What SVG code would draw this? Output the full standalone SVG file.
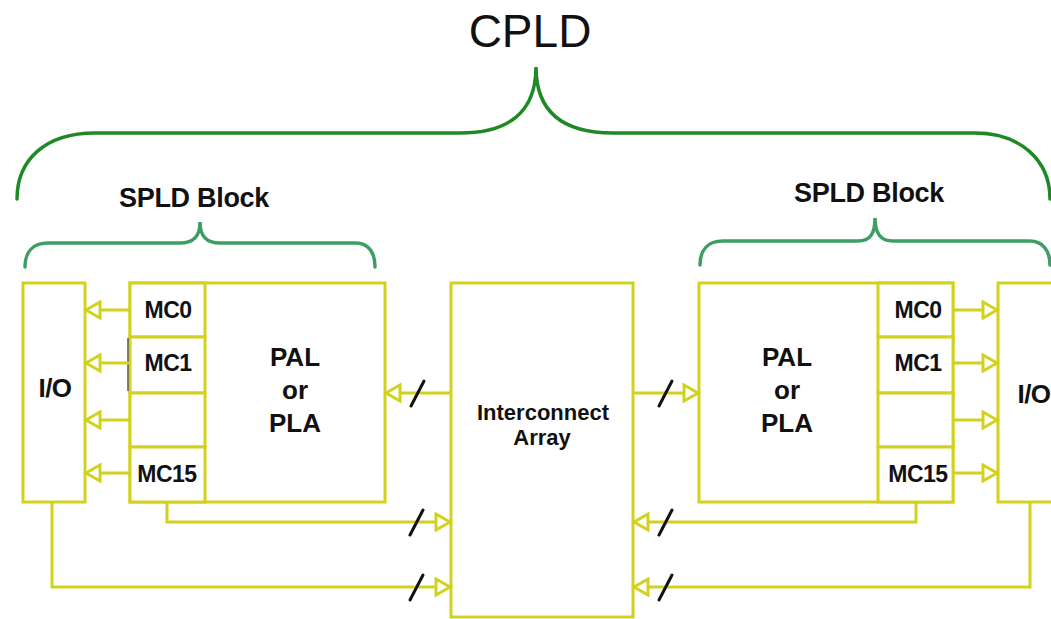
<svg xmlns="http://www.w3.org/2000/svg" width="1051" height="619" viewBox="0 0 1051 619">
<style>
.box{fill:#fff;stroke:#d2d21e;stroke-width:3}
.ln{fill:none;stroke:#d2d21e;stroke-width:3}
.sl{stroke:#111;stroke-width:3;stroke-linecap:round}
.brace1{fill:none;stroke:#1f8a25;stroke-width:3.5;stroke-linecap:round}
.brace2{fill:none;stroke:#3c9e64;stroke-width:3.5;stroke-linecap:round}
text{font-family:"Liberation Sans",Arial,sans-serif;fill:#111;text-anchor:middle}
.b{font-weight:bold}
.mc{font-size:23px;font-weight:bold;letter-spacing:-0.5px}
.pal{font-size:26px;font-weight:bold}
</style>
<defs>
<marker id="ah" viewBox="0 0 20 20" refX="17" refY="10" markerWidth="20" markerHeight="20" markerUnits="userSpaceOnUse" orient="auto">
<path d="M2,2 L16,10 L2,18 Z" fill="#fff" stroke="#d2d21e" stroke-width="3"/>
</marker>
</defs>
<rect width="1051" height="619" fill="#fff"/>

<g id="title">
<text x="530" y="47" font-size="46">CPLD</text>
<path class="brace1" d="M17,199 C17,160 45,133 95,133 L460,133 C505,133 536,115 536,67 C536,115 567,133 613,133 L975,133 C1020,133 1050,160 1050,199"/>
</g>

<g id="spld-left">
<text class="b" x="194" y="207" font-size="27" letter-spacing="-0.3">SPLD Block</text>
<path class="brace2" d="M25,267 C25,252 33,243 48,243 L180,243 C194,243 200,236 200,222 C200,236 206,243 220,243 L356,243 C368,243 375,252 375,267"/>
</g>

<g id="spld-right">
<text class="b" x="869" y="202" font-size="27" letter-spacing="-0.3">SPLD Block</text>
<path class="brace2" d="M700,265 C700,250 708,241 723,241 L858,241 C870,241 875,234 875,218 C875,234 881,241 893,241 L1030,241 C1042,241 1050,250 1050,265"/>
</g>

<g id="io-left">
<rect class="box" x="23" y="283" width="62" height="219"/>
<text class="b" x="55" y="397" font-size="26" letter-spacing="-0.5">I/O</text>
</g>

<g id="pal-left">
<rect class="box" x="130" y="283" width="255" height="219"/>
<text class="pal" x="295" y="366">PAL</text>
<text class="pal" x="295" y="399">or</text>
<text class="pal" x="295" y="432">PLA</text>
</g>
<g id="mc-left">
<rect class="box" x="130" y="283" width="75" height="54"/>
<rect class="box" x="130" y="337" width="75" height="56"/>
<rect class="box" x="130" y="393" width="75" height="54"/>
<rect class="box" x="130" y="447" width="75" height="55"/>
<text class="mc" x="168" y="318">MC0</text>
<text class="mc" x="168" y="371">MC1</text>
<text class="mc" x="167" y="482">MC15</text>
<line x1="128" y1="338" x2="128" y2="391" stroke="#555" stroke-width="1.5"/>
</g>

<g id="interconnect">
<rect class="box" x="451" y="283" width="182" height="334"/>
<text class="b" x="543" y="420" font-size="22">Interconnect</text>
<text class="b" x="542" y="445" font-size="22">Array</text>
</g>

<g id="pal-right">
<rect class="box" x="699" y="283" width="254" height="219"/>
<text class="pal" x="787" y="366">PAL</text>
<text class="pal" x="787" y="399">or</text>
<text class="pal" x="787" y="432">PLA</text>
</g>
<g id="mc-right">
<rect class="box" x="878" y="283" width="75" height="54"/>
<rect class="box" x="878" y="337" width="75" height="56"/>
<rect class="box" x="878" y="393" width="75" height="54"/>
<rect class="box" x="878" y="447" width="75" height="55"/>
<text class="mc" x="918" y="318">MC0</text>
<text class="mc" x="918" y="371">MC1</text>
<text class="mc" x="918" y="482">MC15</text>
</g>

<g id="io-right">
<rect class="box" x="998" y="283" width="70" height="219"/>
<text class="b" x="1034" y="403" font-size="26" letter-spacing="-0.5">I/O</text>
</g>

<g id="connectors">
<line class="ln" x1="130" y1="310" x2="85" y2="310" marker-end="url(#ah)"/>
<line class="ln" x1="130" y1="363" x2="85" y2="363" marker-end="url(#ah)"/>
<line class="ln" x1="130" y1="420" x2="85" y2="420" marker-end="url(#ah)"/>
<line class="ln" x1="130" y1="473" x2="85" y2="473" marker-end="url(#ah)"/>
<line class="ln" x1="451" y1="393" x2="385" y2="393" marker-end="url(#ah)"/>
<path class="ln" d="M167,502 V522 H451" marker-end="url(#ah)"/>
<path class="ln" d="M52,502 V587 H451" marker-end="url(#ah)"/>

<line class="ln" x1="953" y1="310" x2="998" y2="310" marker-end="url(#ah)"/>
<line class="ln" x1="953" y1="363" x2="998" y2="363" marker-end="url(#ah)"/>
<line class="ln" x1="953" y1="420" x2="998" y2="420" marker-end="url(#ah)"/>
<line class="ln" x1="953" y1="473" x2="998" y2="473" marker-end="url(#ah)"/>
<line class="ln" x1="633" y1="393" x2="699" y2="393" marker-end="url(#ah)"/>
<path class="ln" d="M916,502 V522 H633" marker-end="url(#ah)"/>
<path class="ln" d="M1030,502 V587 H633" marker-end="url(#ah)"/>

<line class="sl" x1="411" y1="406" x2="424" y2="381"/>
<line class="sl" x1="410" y1="535" x2="423" y2="510"/>
<line class="sl" x1="410" y1="600" x2="423" y2="575"/>
<line class="sl" x1="659" y1="406" x2="672" y2="381"/>
<line class="sl" x1="659" y1="535" x2="672" y2="510"/>
<line class="sl" x1="659" y1="600" x2="672" y2="575"/>
</g>
</svg>
